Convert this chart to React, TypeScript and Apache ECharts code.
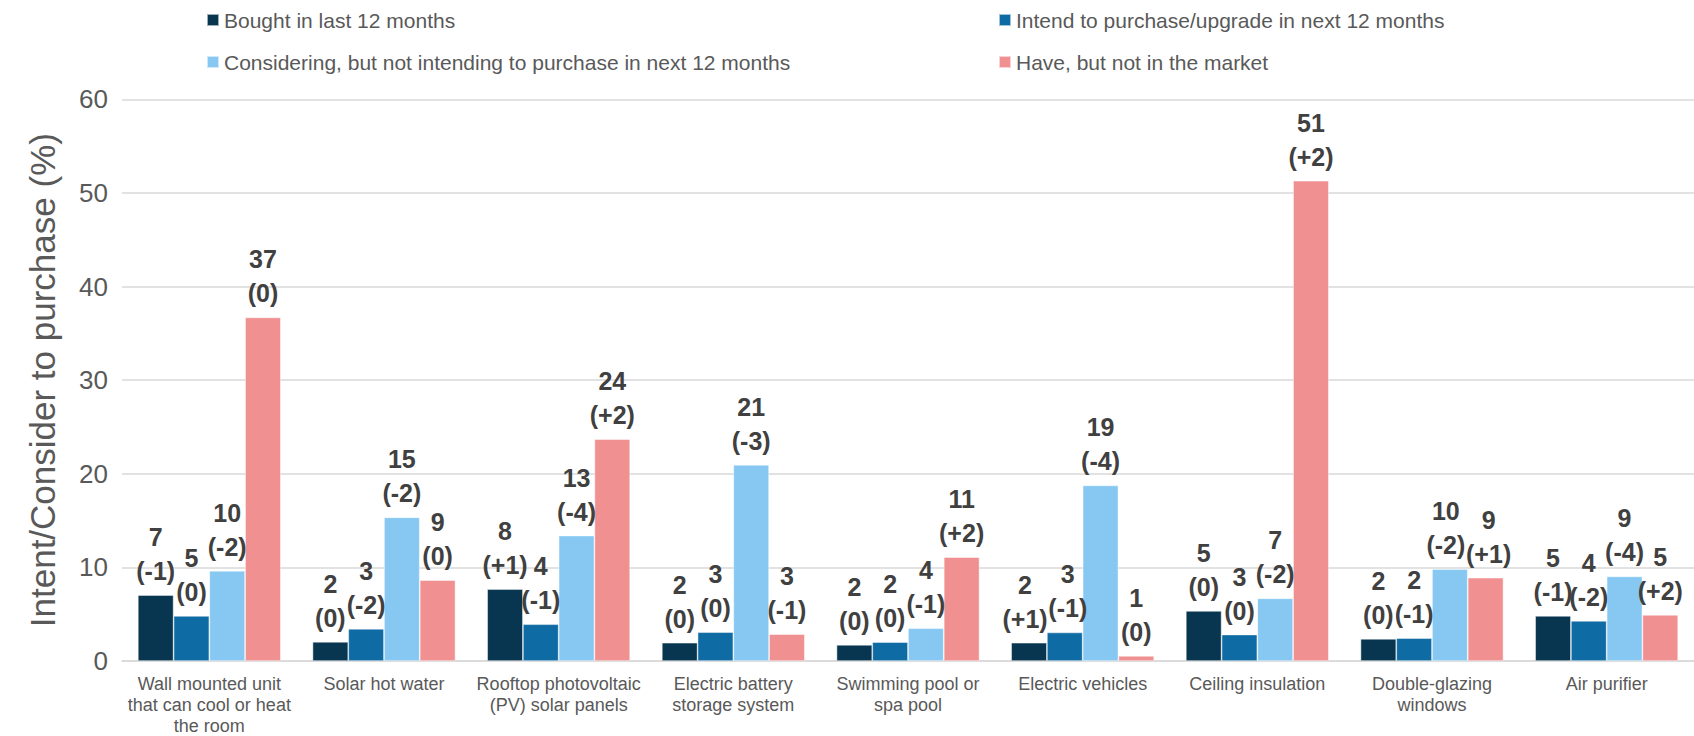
import React, { useEffect, useRef } from "react";
import * as echarts from "echarts";

const categories = [
  "Wall mounted unit\nthat can cool or heat\nthe room",
  "Solar hot water",
  "Rooftop photovoltaic\n(PV) solar panels",
  "Electric battery\nstorage system",
  "Swimming pool or\nspa pool",
  "Electric vehicles",
  "Ceiling insulation",
  "Double-glazing\nwindows",
  "Air purifier",
];

const seriesNames = [
  "Bought in last 12 months",
  "Intend to purchase/upgrade in next 12 months",
  "Considering, but not intending to purchase in next 12 months",
  "Have, but not in the market",
];

const bought = [7.05, 2.05, 7.69, 1.95, 1.73, 1.95, 5.35, 2.37, 4.82];
const intend = [4.82, 3.44, 3.93, 3.08, 2.02, 3.05, 2.83, 2.44, 4.29];
const considering = [9.64, 15.35, 13.4, 20.96, 3.5, 18.76, 6.7, 9.82, 9.04];
const haveNotMarket = [36.7, 8.65, 23.7, 2.87, 11.1, 0.55, 51.3, 8.9, 4.93];

const boughtLabel = [7, 2, 8, 2, 2, 2, 5, 2, 5];
const intendLabel = [5, 3, 4, 3, 2, 3, 3, 2, 4];
const consideringLabel = [10, 15, 13, 21, 4, 19, 7, 10, 9];
const haveLabel = [37, 9, 24, 3, 11, 1, 51, 9, 5];

const boughtChange = ["-1", "0", "+1", "0", "0", "+1", "0", "0", "-1"];
const intendChange = ["0", "-2", "-1", "0", "0", "-1", "0", "-1", "-2"];
const consideringChange = ["-2", "-2", "-4", "-3", "-1", "-4", "-2", "-2", "-4"];
const haveChange = ["0", "0", "+2", "-1", "+2", "0", "+2", "+1", "+2"];

const yTicks = { min: 0, max: 60, interval: 10 };

const colors = ["#08354F", "#0F6BA3", "#86C8F2", "#F09091"];

const FONT = "'Liberation Sans', Arial, sans-serif";

// small horizontal nudges [series, category, dx] to keep crowded labels apart
const labelNudges: [number, number, number][] = [
  [0, 5, -4],
  [1, 5, 3],
  [2, 7, -4],
  [3, 7, 3],
];

export default function App() {
  const ref = useRef<HTMLDivElement>(null);

  useEffect(() => {
    if (!ref.current) return;
    const chart = echarts.init(ref.current, null, { renderer: "svg" });

    const values = [bought, intend, considering, haveNotMarket];
    const labels = [boughtLabel, intendLabel, consideringLabel, haveLabel];
    const changes = [boughtChange, intendChange, consideringChange, haveChange];

    const legendPos = [
      { left: 206, top: 9 },
      { left: 998, top: 9 },
      { left: 206, top: 51 },
      { left: 998, top: 51 },
    ];

    const option: any = {
      animation: false,
      textStyle: { fontFamily: FONT },
      legend: seriesNames.map((name, i) => ({
        data: [name],
        left: legendPos[i].left,
        top: legendPos[i].top,
        padding: 0,
        icon: "rect",
        itemWidth: 12,
        itemHeight: 12,
        textStyle: {
          fontFamily: FONT,
          fontSize: 21,
          color: "#595959",
          lineHeight: 22,
          padding: [0, 0, 0, 0],
        },
      })),
      grid: { left: 122, top: 99.3, width: 1575, height: 564 },
      xAxis: {
        type: "category",
        data: categories,
        axisLine: { lineStyle: { color: "#D9D9D9", width: 1.5 } },
        axisTick: { show: false },
        axisLabel: {
          interval: 0,
          fontFamily: FONT,
          fontSize: 18,
          lineHeight: 21,
          color: "#595959",
          margin: 12,
        },
      },
      yAxis: {
        type: "value",
        min: yTicks.min,
        max: yTicks.max,
        interval: yTicks.interval,
        name: "Intent/Consider to purchase (%)",
        nameLocation: "middle",
        nameRotate: 90,
        nameGap: 62,
        nameTextStyle: { fontFamily: FONT, fontSize: 35, color: "#595959" },
        axisLine: { show: false },
        axisTick: { show: false },
        axisLabel: { fontFamily: FONT, fontSize: 26, color: "#595959", margin: 14 },
        splitLine: { lineStyle: { color: "#D9D9D9", width: 1.5 } },
      },
      series: seriesNames.map((name, si) => ({
        name,
        type: "bar",
        barWidth: 35.75,
        barGap: "0%",
        itemStyle: { color: colors[si], borderColor: "rgba(255,255,255,0.6)", borderWidth: 0.75 },
        label: {
          show: true,
          position: "top",
          distance: 7,
          fontFamily: FONT,
          fontSize: 25,
          fontWeight: "bold",
          lineHeight: 34,
          color: "#404040",
          formatter: (p: any) => `${labels[si][p.dataIndex]}\n(${changes[si][p.dataIndex]})`,
        },
        data: values[si].map((v, ci) => {
          const n = labelNudges.find((x) => x[0] === si && x[1] === ci);
          return n ? { value: v, label: { offset: [n[2], 0] } } : v;
        }),
      })),
    };

    chart.setOption(option);
    return () => chart.dispose();
  }, []);

  return (
    <div
      ref={ref}
      style={{ position: "fixed", left: 0, top: 0, width: 1694, height: 736, background: "#fff" }}
    />
  );
}
